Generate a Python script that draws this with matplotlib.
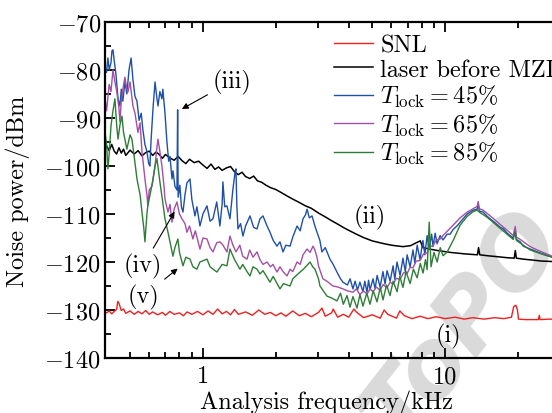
import matplotlib
matplotlib.use("Agg")
import matplotlib.pyplot as plt
from matplotlib.ticker import FixedLocator, FixedFormatter, NullFormatter, MultipleLocator

plt.rcParams["font.family"] = "cmr10"
plt.rcParams["mathtext.fontset"] = "cm"
plt.rcParams["axes.formatter.use_mathtext"] = True

# ---- data (frequency in kHz, power in dBm) ----
f_snl = [0.39, 0.40, 0.41, 0.42, 0.43, 0.44, 0.445, 0.45, 0.46, 0.47, 0.48, 0.50, 0.52,
         0.54, 0.56, 0.58, 0.60, 0.62, 0.65, 0.68, 0.70, 0.73, 0.76, 0.80, 0.83, 0.86,
         0.90, 0.95, 1.00, 1.05, 1.10, 1.15, 1.20, 1.25, 1.30, 1.35, 1.40, 1.50, 1.60,
         1.70, 1.80, 1.90, 2.00, 2.10, 2.20, 2.35, 2.50, 2.65, 2.80, 3.00, 3.10, 3.20,
         3.40, 3.45, 3.60, 3.80, 4.00, 4.20, 4.30, 4.60, 5.00, 5.40, 5.60, 5.80, 6.30,
         6.50, 6.80, 7.30, 7.90, 8.50, 9.20, 10.0, 11.0, 12.0, 13.0, 14.5, 16.0, 17.5,
         18.8, 19.2, 19.6, 19.9, 20.1, 21.5, 23.0, 24.3, 24.5, 24.7, 27.0, 30.0]
db_snl = [-130.4, -130.6, -130.2, -130.8, -130.3, -129.9, -128.2, -128.6, -130.1, -129.8,
          -130.7, -130.2, -130.9, -130.3, -130.8, -130.1, -130.9, -130.4, -131.0, -130.5,
          -131.1, -130.3, -130.9, -130.6, -131.2, -130.4, -130.9, -130.3, -131.0, -130.2,
          -130.9, -129.8, -130.8, -130.3, -131.0, -129.9, -130.9, -130.4, -131.1, -130.0,
          -130.9, -130.5, -131.2, -130.6, -131.3, -130.2, -131.2, -130.7, -131.4, -130.5,
          -129.6, -131.3, -130.6, -129.8, -131.5, -130.9, -131.5, -129.8, -130.4, -131.6,
          -131.0, -131.7, -130.0, -130.9, -131.7, -130.2, -131.2, -131.8, -131.3, -131.8,
          -131.4, -131.8, -131.5, -131.9, -131.6, -131.9, -131.6, -131.8, -131.5, -129.3,
          -129.0, -130.0, -131.9, -132.0, -132.0, -132.0, -131.1, -132.0, -131.9, -132.0]

f_laser = [0.39, 0.40, 0.41, 0.42, 0.43, 0.44, 0.45, 0.46, 0.47, 0.48, 0.50, 0.52, 0.54,
           0.56, 0.58, 0.60, 0.62, 0.64, 0.66, 0.68, 0.70, 0.73, 0.76, 0.79, 0.82, 0.85,
           0.88, 0.92, 0.96, 1.00, 1.04, 1.08, 1.12, 1.16, 1.20, 1.25, 1.30, 1.35, 1.40,
           1.45, 1.50, 1.56, 1.62, 1.68, 1.75, 1.82, 1.90, 2.00, 2.10, 2.20, 2.35, 2.50,
           2.65, 2.80, 3.00, 3.20, 3.40, 3.60, 3.80, 4.00, 4.30, 4.60, 5.00, 5.50, 6.00,
           6.70, 7.20, 7.60, 7.90, 8.10, 8.60, 9.30, 10.5, 12.0, 13.6, 13.75, 13.9, 15.0,
           16.5, 18.0, 19.3, 19.5, 19.7, 21.0, 23.0, 25.0, 27.7, 30.0]
db_laser = [-95.6, -95.8, -96.8, -95.5, -96.9, -97.5, -96.2, -97.3, -96.5, -97.8, -96.7,
            -97.5, -96.8, -97.9, -97.2, -96.9, -97.8, -97.1, -97.6, -98.4, -97.6, -98.3,
            -98.8, -98.0, -98.9, -99.5, -98.6, -99.3, -99.0, -99.8, -100.5, -99.6, -100.7,
            -100.2, -100.9, -100.4, -100.1, -101.2, -101.8, -101.3, -102.2, -102.6, -102.1,
            -103.1, -103.4, -104.0, -104.5, -104.9, -105.5, -106.1, -106.9, -107.6, -108.3,
            -108.8, -109.8, -110.6, -111.4, -112.1, -112.8, -113.4, -114.2, -114.9, -115.6,
            -116.1, -116.5, -116.8, -116.6, -116.0, -115.6, -117.0, -117.3, -117.6, -118.0,
            -118.3, -118.5, -117.0, -118.5, -118.7, -118.9, -119.1, -119.2, -117.6, -119.2,
            -119.4, -119.6, -119.8, -119.9, -120.0]

f_45 = [0.394, 0.40, 0.405, 0.41, 0.417, 0.421, 0.425, 0.43, 0.437, 0.446, 0.454, 0.46,
        0.467, 0.476, 0.485, 0.495, 0.505, 0.514, 0.524, 0.534, 0.545, 0.556, 0.565, 0.576,
        0.587, 0.597, 0.604, 0.61, 0.622, 0.634, 0.646, 0.652, 0.664, 0.677, 0.683, 0.697,
        0.71, 0.722, 0.731, 0.745, 0.752, 0.766, 0.781, 0.786, 0.79, 0.803, 0.815, 0.827,
        0.843, 0.859, 0.884, 0.90, 0.927, 0.944, 0.972, 1.0, 1.039, 1.07, 1.10, 1.14, 1.175,
        1.20, 1.209, 1.23, 1.256, 1.293, 1.33, 1.36, 1.369, 1.38, 1.395, 1.43, 1.463, 1.50,
        1.564, 1.62, 1.672, 1.72, 1.77, 1.84, 1.892, 1.95, 2.022, 2.08, 2.141, 2.20, 2.289,
        2.35, 2.447, 2.52, 2.59, 2.65, 2.692, 2.75, 2.822, 2.90, 2.958, 3.04, 3.10, 3.20,
        3.346, 3.45, 3.577, 3.70, 3.786, 3.95, 4.05, 4.164, 4.25, 4.35, 4.45, 4.58, 4.66,
        4.76, 4.83, 4.90, 5.04, 5.14, 5.24, 5.39, 5.54, 5.65, 5.76, 5.93, 6.10, 6.20, 6.33,
        6.52, 6.70, 6.85, 6.97, 7.17, 7.37, 7.50, 7.67, 7.88, 8.10, 8.25, 8.43, 8.60, 8.80,
        8.92, 9.10, 9.27, 9.54, 9.81, 10.2, 10.5, 10.8, 11.2, 11.54, 11.87, 12.34, 12.69,
        13.06, 13.57, 13.70, 13.85, 14.36, 14.93, 15.8, 16.9, 17.4, 18.06, 19.11, 19.48,
        19.7, 20.43, 21.02, 22.47, 24.03, 25.95, 27.72, 30.0]
db_45 = [-79.5, -80.5, -77.5, -80.0, -78.5, -76.0, -75.8, -78.0, -80.8, -86.0, -87.5, -84.0,
         -86.5, -82.5, -85.0, -80.0, -77.5, -82.0, -85.5, -86.5, -90.5, -89.0, -92.5, -95.5,
         -97.0, -99.5, -100.0, -95.0, -88.0, -82.5, -86.0, -87.5, -84.5, -86.0, -84.0, -89.0,
         -95.0, -99.0, -98.0, -102.7, -101.0, -104.2, -105.0, -88.3, -106.5, -104.0, -108.5,
         -109.6, -106.0, -103.5, -102.7, -107.0, -110.4, -108.5, -112.5, -110.0, -108.3,
         -111.5, -111.0, -107.5, -112.5, -108.0, -103.3, -108.5, -108.3, -111.0, -104.8,
         -101.0, -100.6, -108.0, -113.1, -112.0, -114.6, -112.5, -110.4, -112.8, -113.1,
         -111.0, -110.4, -112.5, -113.8, -115.5, -116.7, -115.8, -117.9, -116.5, -116.7,
         -114.8, -112.5, -113.5, -111.0, -110.2, -109.0, -110.8, -110.4, -112.5, -113.8,
         -115.5, -117.9, -117.0, -119.4, -120.5, -122.1, -123.5, -124.2, -124.8, -123.5,
         -125.6, -124.0, -125.8, -124.2, -126.2, -124.0, -126.3, -123.8, -125.8, -123.5,
         -125.6, -122.8, -125.2, -122.0, -124.6, -121.8, -124.0, -120.8, -123.6, -120.0,
         -122.8, -119.2, -122.0, -118.5, -121.0, -117.5, -120.2, -116.5, -119.5, -115.5,
         -118.5, -114.5, -117.3, -114.2, -116.8, -114.0, -116.2, -114.5, -115.4, -114.2,
         -114.2, -113.2, -112.5, -111.7, -111.0, -110.0, -109.6, -109.2, -109.0, -107.9,
         -109.4, -109.6, -110.5, -111.5, -112.8, -113.1, -114.0, -115.0, -113.1, -115.3,
         -115.8, -116.7, -117.3, -117.9, -118.5, -119.0, -119.4]

f_65 = [0.394, 0.40, 0.41, 0.417, 0.425, 0.433, 0.441, 0.45, 0.454, 0.46, 0.467, 0.476,
        0.485, 0.49, 0.50, 0.514, 0.524, 0.539, 0.55, 0.56, 0.576, 0.587, 0.592, 0.60, 0.616,
        0.634, 0.646, 0.652, 0.664, 0.677, 0.69, 0.697, 0.717, 0.731, 0.745, 0.76, 0.781,
        0.80, 0.819, 0.843, 0.859, 0.88, 0.909, 0.93, 0.972, 1.0, 1.039, 1.07, 1.10, 1.14,
        1.175, 1.21, 1.256, 1.293, 1.33, 1.369, 1.42, 1.46, 1.52, 1.56, 1.61, 1.672, 1.72,
        1.77, 1.839, 1.90, 1.946, 2.022, 2.08, 2.141, 2.225, 2.29, 2.35, 2.447, 2.52, 2.59,
        2.692, 2.77, 2.849, 2.90, 2.958, 3.0, 3.13, 3.25, 3.442, 3.60, 3.786, 3.95, 4.164,
        4.30, 4.45, 4.60, 4.76, 4.90, 5.04, 5.20, 5.39, 5.55, 5.76, 5.93, 6.10, 6.30, 6.52,
        6.75, 6.97, 7.17, 7.37, 7.60, 7.88, 8.15, 8.43, 8.65, 8.92, 9.20, 9.54, 9.85, 10.2,
        10.8, 11.54, 12.34, 13.06, 13.57, 13.70, 13.85, 14.36, 14.93, 15.8, 16.9, 18.06,
        19.11, 19.48, 19.7, 20.43, 22.47, 24.03, 25.95, 27.72, 30.0]
db_65 = [-86.0, -88.5, -83.0, -84.5, -80.0, -82.5, -84.6, -88.0, -90.8, -86.5, -84.0, -81.5,
         -84.0, -84.6, -82.5, -87.5, -89.0, -93.0, -91.0, -97.0, -102.7, -106.0, -108.3,
         -105.0, -104.2, -100.0, -96.0, -94.4, -97.0, -100.0, -104.0, -106.9, -109.6, -108.0,
         -111.7, -109.0, -107.5, -110.0, -111.0, -112.0, -113.8, -112.5, -115.2, -113.5,
         -117.3, -115.0, -115.2, -117.0, -117.9, -116.0, -115.8, -116.5, -117.9, -114.6,
         -116.5, -117.9, -116.5, -118.8, -119.4, -117.5, -119.0, -117.9, -119.5, -120.5,
         -120.0, -121.0, -120.5, -122.1, -121.0, -122.0, -122.9, -121.5, -122.0, -120.0,
         -120.5, -118.5, -117.3, -118.0, -116.7, -117.5, -119.0, -120.8, -123.5, -124.0,
         -125.0, -125.2, -125.6, -126.0, -126.3, -125.6, -126.8, -126.0, -126.7, -125.6,
         -126.2, -125.2, -125.9, -124.7, -125.4, -124.2, -124.6, -123.4, -123.6, -122.2,
         -122.4, -121.1, -121.2, -119.8, -119.7, -118.3, -118.1, -116.8, -116.6, -115.4,
         -115.2, -114.4, -113.6, -112.3, -110.8, -109.6, -108.9, -108.4, -107.4, -108.9,
         -109.2, -109.9, -110.9, -112.2, -113.4, -114.5, -112.6, -114.8, -115.3, -116.8,
         -117.5, -118.2, -118.8, -119.2]

f_85 = [0.394, 0.40, 0.405, 0.41, 0.417, 0.425, 0.433, 0.441, 0.446, 0.454, 0.463, 0.47,
        0.485, 0.50, 0.509, 0.52, 0.534, 0.55, 0.56, 0.57, 0.576, 0.587, 0.592, 0.61, 0.622,
        0.634, 0.646, 0.664, 0.68, 0.697, 0.715, 0.731, 0.752, 0.766, 0.788, 0.80, 0.827,
        0.85, 0.884, 0.909, 0.944, 0.972, 1.039, 1.07, 1.142, 1.20, 1.256, 1.293, 1.35,
        1.422, 1.46, 1.52, 1.564, 1.61, 1.672, 1.72, 1.77, 1.892, 1.95, 2.081, 2.15, 2.289,
        2.35, 2.518, 2.60, 2.77, 2.84, 2.903, 3.0, 3.043, 3.252, 3.40, 3.577, 3.70, 3.80,
        3.935, 4.05, 4.164, 4.328, 4.45, 4.58, 4.75, 4.897, 5.05, 5.236, 5.40, 5.541, 5.73,
        5.925, 6.10, 6.335, 6.50, 6.70, 6.90, 7.169, 7.40, 7.665, 7.90, 8.112, 8.30, 8.431,
        8.60, 8.75, 9.00, 9.273, 9.55, 9.814, 10.2, 10.8, 11.54, 12.34, 13.06, 13.57, 13.85,
        14.93, 16.9, 19.11, 19.48, 19.7, 22.47, 25.95, 30.0]
db_85 = [-93.0, -95.5, -100.6, -97.5, -91.7, -88.5, -86.0, -92.0, -94.4, -91.5, -89.6, -93.0,
         -96.5, -93.5, -94.4, -98.0, -102.7, -106.0, -109.6, -113.0, -115.8, -110.0, -108.3,
         -105.0, -102.7, -100.0, -98.5, -103.3, -107.0, -111.0, -113.5, -115.8, -118.8,
         -117.0, -115.2, -118.0, -120.8, -119.0, -119.4, -121.0, -121.5, -120.0, -119.4,
         -121.0, -122.1, -120.5, -120.8, -117.3, -119.5, -121.5, -120.5, -122.0, -122.9,
         -121.0, -121.5, -122.5, -121.8, -124.2, -123.0, -125.6, -124.5, -125.0, -123.5,
         -122.1, -121.5, -120.0, -121.0, -121.5, -123.5, -125.0, -127.1, -127.5, -128.1,
         -126.5, -128.8, -127.0, -129.4, -127.2, -129.6, -126.8, -129.2, -126.5, -128.8,
         -126.0, -128.3, -125.3, -127.9, -124.8, -127.0, -124.0, -126.2, -123.0, -125.3,
         -122.0, -124.5, -121.5, -123.3, -120.3, -122.3, -119.5, -121.6, -111.7, -121.0,
         -118.0, -120.0, -117.0, -118.7, -117.9, -115.5, -112.3, -110.5, -109.5, -109.2,
         -109.6, -110.7, -113.0, -115.3, -113.8, -115.5, -117.5, -118.6, -119.5]

labels = ["SNL", "laser before MZI", r"$T_{\rm lock}=45\%$", r"$T_{\rm lock}=65\%$",
          r"$T_{\rm lock}=85\%$"]

fs = 17.5

fig = plt.figure(figsize=(5.52, 4.14), dpi=100)
ax = fig.add_axes([105 / 552, 1 - 359 / 414, (589 - 105) / 552, (359 - 23) / 414])
ax.patch.set_alpha(0)

# journal watermark in the lower right corner
fig.text(0.84, 0.21, "ToPO", fontsize=68, fontstyle="italic", fontweight="bold",
         family="DejaVu Sans", color="#dadada", rotation=52, ha="center", va="center",
         zorder=-5)

l_laser, = ax.plot(f_laser, db_laser, color="black", lw=1.1)
l_45, = ax.plot(f_45, db_45, color="#1f50a8", lw=1.0)
l_65, = ax.plot(f_65, db_65, color="#a250a6", lw=1.0)
l_85, = ax.plot(f_85, db_85, color="#2e7d36", lw=1.0)
l_snl, = ax.plot(f_snl, db_snl, color="#ee2020", lw=1.0)

ax.set_xscale("log")
ax.set_xlim(0.394, 39.3)
ax.set_ylim(-140, -70)
ax.xaxis.set_major_locator(FixedLocator([1, 10]))
ax.xaxis.set_major_formatter(FixedFormatter(["1", "10"]))
ax.xaxis.set_minor_locator(FixedLocator([0.5, 0.6, 0.7, 0.8, 0.9, 2, 3, 4, 5, 6, 7, 8, 9,
                                         20, 30]))
ax.xaxis.set_minor_formatter(NullFormatter())
ax.yaxis.set_major_locator(MultipleLocator(10))
ax.yaxis.set_minor_locator(MultipleLocator(5))
ax.tick_params(which="both", direction="in", top=True, right=True, width=1.3,
               labelsize=fs)
ax.tick_params(axis="x", pad=5)
ax.tick_params(axis="y", pad=3)
ax.tick_params(which="major", length=7)
ax.tick_params(which="minor", length=4)
for s in ax.spines.values():
    s.set_linewidth(1.6)

ax.set_xlabel("Analysis frequency/kHz", fontsize=fs)
ax.xaxis.set_label_coords((327 - 105) / 484, -0.095)
ax.set_ylabel("Noise power/dBm", fontsize=fs)
ax.yaxis.set_label_coords(-0.155, 0.5)

ax.legend([l_snl, l_laser, l_45, l_65, l_85], labels, loc="upper left",
          bbox_to_anchor=(334 / 552, 1 - 35 / 414), bbox_transform=fig.transFigure,
          frameon=False, fontsize=fs, handlelength=1.6, handletextpad=0.3,
          labelspacing=0.1, borderaxespad=0, borderpad=0)

akw = dict(arrowstyle="-|>", color="black", lw=0.8, mutation_scale=9)
ax.annotate("(iii)", xy=(0.80, -88.4), xytext=(1.32, -82.3), fontsize=fs,
            ha="center", va="center", arrowprops=akw)
ax.annotate("(iv)", xy=(0.774, -109.0), xytext=(0.565, -120.8), fontsize=fs,
            ha="center", va="center", arrowprops=akw)
ax.annotate("(v)", xy=(0.803, -121.0), xytext=(0.57, -127.1), fontsize=fs,
            ha="center", va="center", arrowprops=akw)
ax.text(4.9, -110.6, "(ii)", fontsize=fs, ha="center", va="center")
ax.text(10.3, -135.4, "(i)", fontsize=fs, ha="center", va="center")

fig.savefig("out.png", dpi=100)
